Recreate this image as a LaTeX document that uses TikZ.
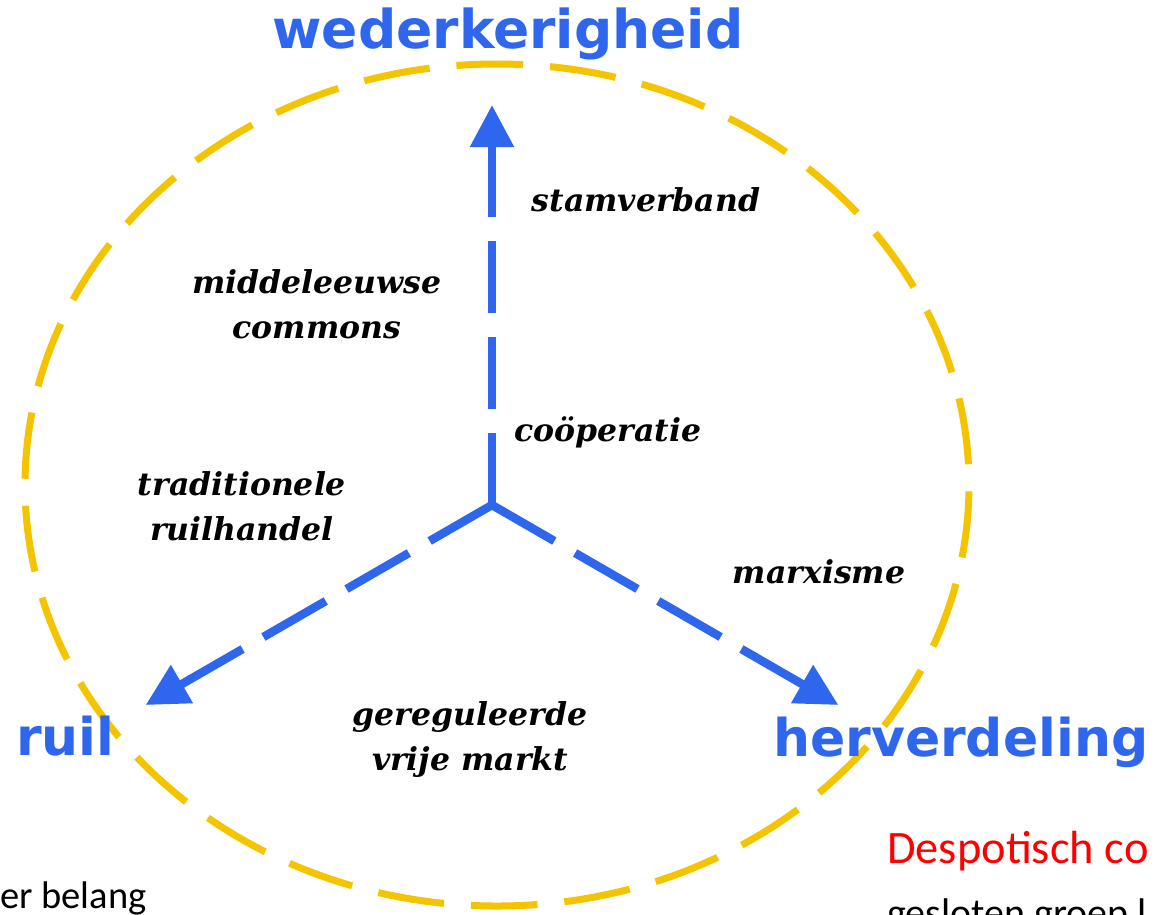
\documentclass[tikz,border=0pt]{standalone}
\usepackage{fontspec}
\usetikzlibrary{arrows.meta}
\newfontfamily\headfont{DejaVu Sans}
\newfontfamily\calfont{Carlito}
\newfontfamily\lblfont{DejaVu Serif}
\definecolor{myblue}{RGB}{47,102,238}
\definecolor{myyellow}{RGB}{245,196,0}
\definecolor{myred}{RGB}{255,0,0}
\begin{document}
\begin{tikzpicture}[x=1pt,y=-1pt,
  ring/.style={draw=myyellow,line width=7pt,dash pattern=on 66.6pt off 27pt,dash phase=72.8pt},
  bluearrow/.style={draw=myblue,line width=8.5pt,dash pattern=on 72pt off 24pt,
    -{Triangle[length=42pt,width=42pt]}},
  head/.style={inner sep=0pt,text=myblue,font=\headfont\bfseries\fontsize{52}{60}\selectfont},
  lbl/.style={inner sep=0pt,align=center,font=\lblfont\bfseries\itshape\fontsize{31.5}{45}\selectfont},
  note/.style={inner sep=0pt,font=\calfont\fontsize{40}{48}\selectfont}
]
\useasboundingbox (0,0) rectangle (1155,914);
\fill[white] (0,0) rectangle (1155,914);
\clip (0,0) rectangle (1155,914);

% dashed yellow ring
\draw[ring] (497,485) ellipse [x radius=472pt, y radius=421pt];

% blue arrows
\coordinate (J) at (492,505);
\coordinate (T1) at (492,105);
\coordinate (T2) at (145.6,705);
\coordinate (T3) at (838.4,705);
\draw[bluearrow] (J) -- (T1);
\draw[bluearrow] (J) -- (T2);
\draw[bluearrow] (J) -- (T3);
\fill[myblue] (J) circle (4.25pt);

% headings
\node[head,anchor=base,font=\headfont\bfseries\fontsize{53.5}{60}\selectfont] (wed) at (508,48) {wederkerigheid};
\node[head,anchor=base west] (ruil) at (16,755) {ruil};
\node[head,anchor=base west] (her) at (773,756) {herverdeling};

% labels
\node[lbl] (stam) at (646,200) {stamverband};
\node[lbl] (midd) at (317,304) {middeleeuwse\\commons};
\node[lbl] (coop) at (608,432) {coöperatie};
\node[lbl] (trad) at (242,506) {traditionele\\ruilhandel};
\node[lbl] (marx) at (819,572) {marxisme};
\node[lbl] (gere) at (470,740) {gereguleerde\\vrije markt};

% cut-off notes
\node[note,anchor=base west,font=\calfont\fontsize{38.5}{48}\selectfont] (bel) at (0,908) {er belang};
\node[note,anchor=base west,text=myred,font=\calfont\fontsize{46.5}{52}\selectfont] (desp) at (887,863) {Despotisch co};
\node[note,anchor=base west] (gesl) at (887,926) {gesloten groep l};
\end{tikzpicture}
\end{document}
